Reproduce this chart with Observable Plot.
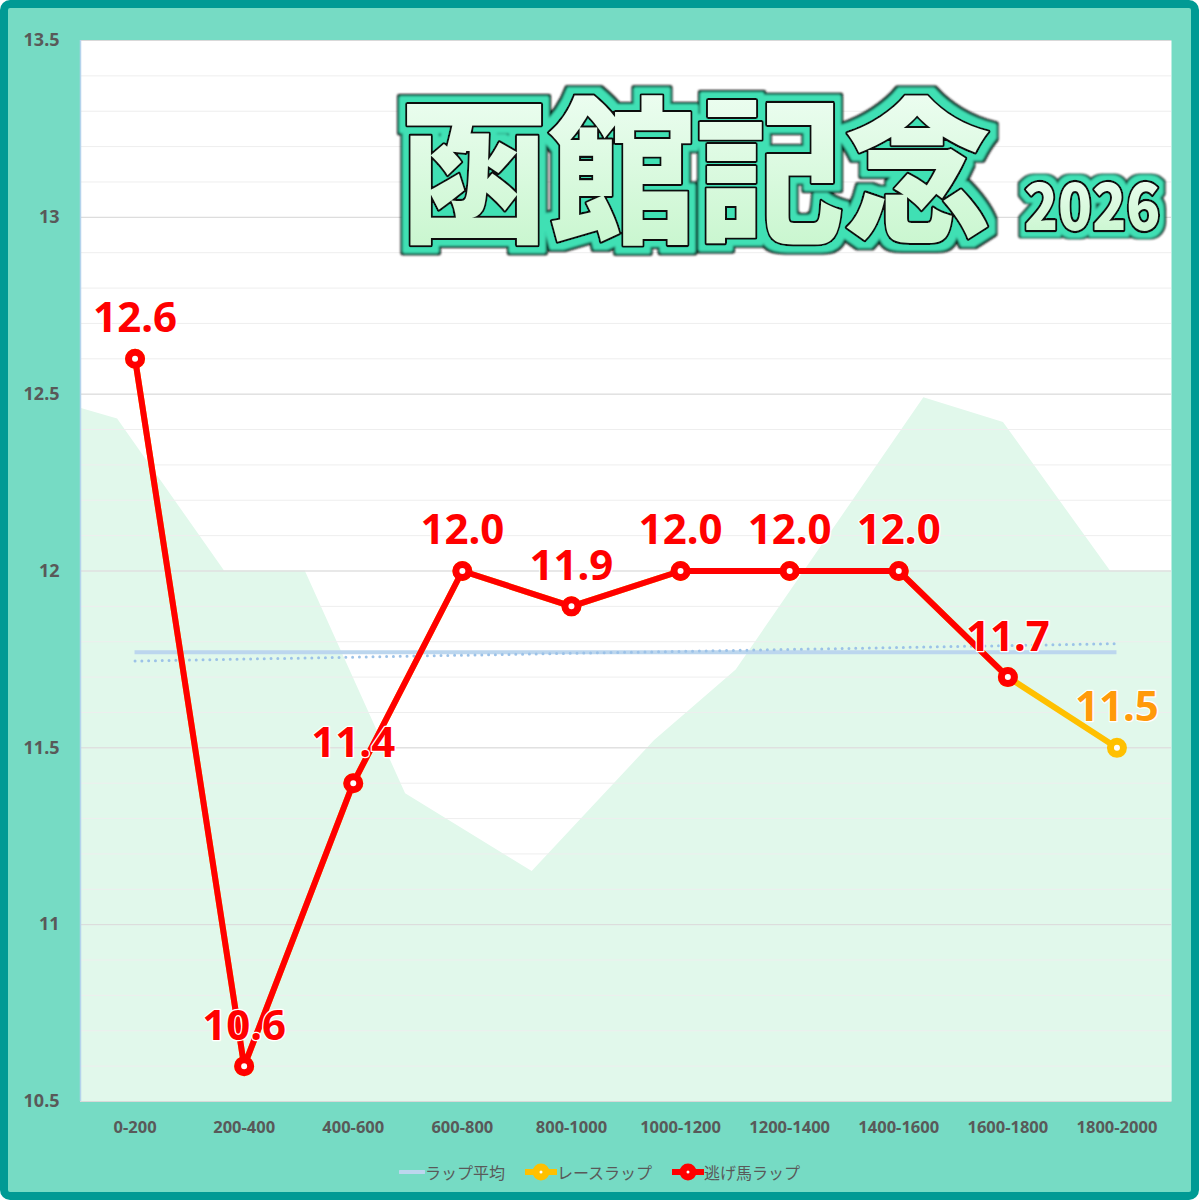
<!DOCTYPE html>
<html><head><meta charset="utf-8">
<script src="https://cdn.jsdelivr.net/npm/d3@7"></script>
<script src="https://cdn.jsdelivr.net/npm/@observablehq/plot@0.6"></script>
<style>
html,body{margin:0;padding:0;background:#fff;}
#frame{position:relative;width:1199px;height:1200px;box-sizing:border-box;border:8px solid #009a94;border-radius:10px;background:#76dbc4;overflow:hidden;font-family:"Noto Sans","Noto Sans CJK JP",sans-serif;}
#chart{position:absolute;left:0;top:0;}
#title{position:absolute;left:0;top:0;pointer-events:none;}
#legend{position:absolute;left:0;right:0;top:1152px;height:24px;display:flex;justify-content:center;align-items:center;gap:20px;font-family:"Noto Sans CJK JP",sans-serif;font-size:16px;color:#595959;}
#legend .item{display:flex;align-items:center;}
#legend svg{display:block;}
</style></head>
<body>
<div id="frame">
  <div id="chart"></div>
  <svg id="title" width="1183" height="300"></svg>
  <div id="legend"></div>
</div>
<script>
// ---- data ----
const categories = ["0-200","200-400","400-600","600-800","800-1000","1000-1200","1200-1400","1400-1600","1600-1800","1800-2000"];
const escapeLap = [12.6, 10.6, 11.4, 12.0, 11.9, 12.0, 12.0, 12.0, 11.7];
const raceLap   = [12.6, 10.6, 11.4, 12.0, 11.9, 12.0, 12.0, 12.0, 11.7, 11.5];
// background shaded shape (position in category units, value)
const backdropPos = [0, 0.34, 1.32, 2.06, 2.98, 4.14, 5.26, 6.01, 7.73, 8.46, 9.44, 10];
const backdropVal = [12.46, 12.43, 12.0, 12.0, 11.37, 11.15, 11.52, 11.72, 12.49, 12.42, 12.0, 12.0];
const yTicks = [10.5, 11, 11.5, 12, 12.5, 13, 13.5];
const minorTicks = d3.range(105, 136).map(d => d / 10);
const legendLabels = ["ラップ平均", "レースラップ", "逃げ馬ラップ"];
const titleMain = "函館記念";
const titleYear = "2026";

// ---- tables ----
const race = raceLap.map((v, i) => ({x: i + 0.5, y: v, cat: categories[i]}));
const escape = escapeLap.map((v, i) => ({x: i + 0.5, y: v, cat: categories[i]}));
const backdrop = backdropPos.map((p, i) => ({x: p, y: backdropVal[i]}));
const avg = d3.mean(raceLap);
const fmt = d3.format(".1f");

const chart = Plot.plot({
  width: 1183, height: 1135,
  marginLeft: 72, marginRight: 20, marginTop: 32, marginBottom: 42,
  style: {background: "transparent", fontFamily: "'Noto Sans', sans-serif", overflow: "visible"},
  x: {domain: [0, 10], axis: null},
  y: {domain: [10.5, 13.5], axis: null},
  marks: [
    Plot.frame({fill: "white", stroke: null}),
    Plot.areaY(backdrop, {x: "x", y1: 10.5, y2: "y", fill: "#e1f8eb"}),
    Plot.ruleY(minorTicks, {stroke: "#eeeeee", strokeWidth: 1}),
    Plot.ruleY(yTicks, {stroke: "#d9d9d9", strokeWidth: 1}),
    Plot.ruleX([0], {stroke: "#b4d3ec", strokeWidth: 1.5}),
    Plot.axisY(yTicks, {anchor: "left", label: null, tickSize: 0, tickPadding: 21, fontSize: 18, fontWeight: "bold", fill: "#595959", tickFormat: d => String(d)}),
    Plot.axisX(d3.range(10).map(i => i + 0.5), {anchor: "bottom", label: null, tickSize: 0, tickPadding: 20, fontSize: 16.5, fontWeight: "bold", fill: "#595959", tickFormat: d => categories[Math.floor(d)]}),
    Plot.ruleY([avg], {x1: 0.5, x2: 9.5, stroke: "#bcd6ee", strokeWidth: 4}),
    Plot.linearRegressionY(race, {x: "x", y: "y", ci: 0, stroke: "#9cc2e8", strokeWidth: 3, strokeDasharray: "0,6.8", strokeLinecap: "round"}),
    Plot.line(race, {x: "x", y: "y", stroke: "#ffc000", strokeWidth: 6}),
    Plot.dot(race, {x: "x", y: "y", r: 6.5, fill: "white", stroke: "#ffc000", strokeWidth: 7}),
    Plot.line(escape, {x: "x", y: "y", stroke: "#ff0000", strokeWidth: 6}),
    Plot.dot(escape, {x: "x", y: "y", r: 6.5, fill: "white", stroke: "#ff0000", strokeWidth: 7}),
    Plot.text(race.slice(escape.length), {x: "x", y: "y", text: d => fmt(d.y), dy: -40, fontSize: 42, fontWeight: "bold", fill: "#ff9a0a", stroke: "white", strokeWidth: 2.5, paintOrder: "stroke"}),
    Plot.text(escape, {x: "x", y: "y", text: d => fmt(d.y), dy: -40, fontSize: 42, fontWeight: "bold", fill: "#ff0000", stroke: "white", strokeWidth: 2.5, paintOrder: "stroke"})
  ]
});
document.getElementById("chart").append(chart);

// ---- title (single text element each, outlines via filter) ----
const tsvg = d3.select("#title");
const defs = tsvg.append("defs");
const g1 = defs.append("linearGradient").attr("id", "fillGrad").attr("x1", 0).attr("y1", 0).attr("x2", 0).attr("y2", 1);
g1.append("stop").attr("offset", "0%").attr("stop-color", "#f6fffa");
g1.append("stop").attr("offset", "100%").attr("stop-color", "#c3f5c9");

function rimFilter(id, rim, outer) {
  const f = defs.append("filter").attr("id", id).attr("x", "-10%").attr("y", "-20%").attr("width", "120%").attr("height", "140%");
  f.append("feMorphology").attr("in", "SourceAlpha").attr("operator", "dilate").attr("radius", rim).attr("result", "rimA");
  f.append("feGaussianBlur").attr("in", "rimA").attr("stdDeviation", 0.8).attr("result", "rimB");
  f.append("feFlood").attr("flood-color", "#3fe0b4").attr("result", "rimC");
  f.append("feComposite").attr("in", "rimC").attr("in2", "rimB").attr("operator", "in").attr("result", "rim");
  f.append("feMorphology").attr("in", "SourceAlpha").attr("operator", "dilate").attr("radius", outer).attr("result", "outA");
  f.append("feGaussianBlur").attr("in", "outA").attr("stdDeviation", 0.8).attr("result", "outB");
  f.append("feFlood").attr("flood-color", "#111111").attr("result", "outC");
  f.append("feComposite").attr("in", "outC").attr("in2", "outB").attr("operator", "in").attr("result", "out");
  const m = f.append("feMerge");
  m.append("feMergeNode").attr("in", "out");
  m.append("feMergeNode").attr("in", "rim");
  m.append("feMergeNode").attr("in", "SourceGraphic");
}
rimFilter("rimBig", 6, 8);
rimFilter("rimSmall", 4, 5.5);

function titleText(text, tx, ty, size, sy, filt) {
  tsvg.append("text")
    .attr("transform", `translate(${tx},${ty}) scale(1,${sy})`)
    .attr("x", 0).attr("y", 0)
    .attr("font-family", "'Noto Sans CJK JP', sans-serif")
    .attr("font-weight", 900)
    .attr("font-size", size)
    .attr("fill", "url(#fillGrad)")
    .attr("stroke", "#111")
    .attr("stroke-width", 4)
    .attr("stroke-linejoin", "round")
    .attr("paint-order", "stroke")
    .attr("filter", `url(#${filt})`)
    .text(text);
}
titleText(titleMain, 392, 222, 148, 1.06, "rimBig");
titleText(titleYear, 1016, 222, 56, 1.15, "rimSmall");

// ---- legend ----
const colors = ["#bcd6ee", "#ffc000", "#ff0000"];
const legend = d3.select("#legend");
legendLabels.forEach((lab, i) => {
  const it = legend.append("div").attr("class", "item");
  const s = it.append("svg").attr("width", i === 0 ? 26 : 32).attr("height", 20);
  if (i === 0) {
    s.append("line").attr("x1", 1).attr("x2", 25).attr("y1", 10).attr("y2", 10).attr("stroke", colors[i]).attr("stroke-width", 4).attr("stroke-linecap", "round");
  } else {
    s.append("line").attr("x1", 1).attr("x2", 31).attr("y1", 10).attr("y2", 10).attr("stroke", colors[i]).attr("stroke-width", 6).attr("stroke-linecap", "round");
    s.append("circle").attr("cx", 16).attr("cy", 10).attr("r", 5).attr("fill", "white").attr("stroke", colors[i]).attr("stroke-width", 7);
  }
  it.append("span").text(lab);
});
</script>
</body></html>
